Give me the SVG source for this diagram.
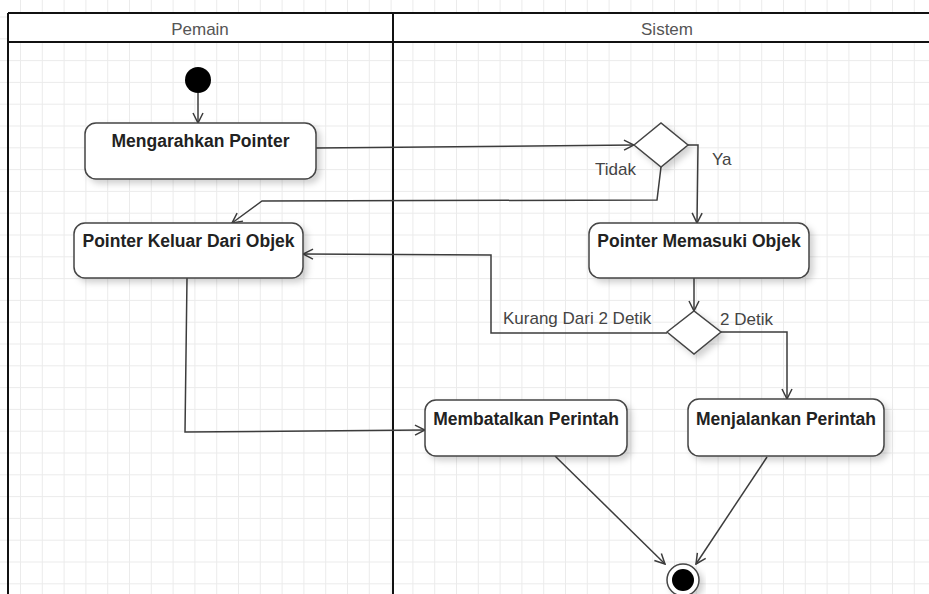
<svg xmlns="http://www.w3.org/2000/svg" width="929" height="594" viewBox="0 0 929 594">
  <defs>
    <pattern id="grid" x="20" y="16.5" width="21.8" height="21.8" patternUnits="userSpaceOnUse">
      <path d="M0 0.5 H21.8 M0.5 0 V21.8" stroke="#ebebeb" stroke-width="1" fill="none"/>
    </pattern>
    <filter id="shadow" x="-10%" y="-10%" width="130%" height="140%">
      <feDropShadow dx="4" dy="4" stdDeviation="3" flood-color="#000" flood-opacity="0.18"/>
    </filter>
    <marker id="arrow" viewBox="0 0 12 12" refX="11" refY="6" markerWidth="12" markerHeight="12" markerUnits="userSpaceOnUse" orient="auto">
      <path d="M1 1 L11 6 L1 11" fill="none" stroke="#3c3c3c" stroke-width="1.5"/>
    </marker>
    <style>
      .lane { fill: none; stroke: #111; stroke-width: 2; }
      .lane-title { font-family: "Liberation Sans", Arial, sans-serif; font-size: 17px; fill: #555; text-anchor: middle; }
      .act { fill: #fff; stroke: #444; stroke-width: 1.5; filter: url(#shadow); }
      .act-label { font-family: "Liberation Sans", Arial, sans-serif; font-size: 17.5px; font-weight: bold; fill: #222; text-anchor: middle; }
      .decision { fill: #fff; stroke: #444; stroke-width: 1.5; filter: url(#shadow); }
      .flow { fill: none; stroke: #3c3c3c; stroke-width: 1.5; marker-end: url(#arrow); }
      .guard { font-family: "Liberation Sans", Arial, sans-serif; font-size: 17px; fill: #444; }
    </style>
  </defs>

  <!-- background grid -->
  <rect x="0" y="0" width="929" height="594" fill="#fff"/>
  <rect x="0" y="0" width="929" height="594" fill="url(#grid)"/>

  <!-- swimlanes -->
  <g id="lanes">
    <rect x="8" y="13" width="930" height="29" fill="#fff"/>
    <line class="lane" x1="8" y1="13" x2="929" y2="13"/>
    <line class="lane" x1="8" y1="42" x2="929" y2="42"/>
    <line class="lane" x1="8" y1="13" x2="8" y2="594"/>
    <line class="lane" x1="393" y1="13" x2="393" y2="594"/>
    <text class="lane-title" x="200" y="35">Pemain</text>
    <text class="lane-title" x="667" y="35">Sistem</text>
  </g>

  <!-- connectors -->
  <g id="connectors">
    <path class="flow" d="M198 93 L198 123"/>
    <path class="flow" d="M316 148 L634 145"/>
    <path class="flow" d="M661 167 L657 200 L262 201 L232 223"/>
    <path class="flow" d="M688 145 L698 145 L697 223"/>
    <path class="flow" d="M694 278 L694 311"/>
    <path class="flow" d="M667 333 L491 333 L491 255 L303 254"/>
    <path class="flow" d="M721 332 L787 332 L787 399"/>
    <path class="flow" d="M187 278 L185 432 L425 430"/>
    <path class="flow" d="M555 456 L665 564"/>
    <path class="flow" d="M767 457 L696 564"/>
    <text class="guard" x="595" y="175" fill="#333">Tidak</text>
    <text class="guard" x="712" y="165">Ya</text>
    <text class="guard" x="503" y="324">Kurang Dari 2 Detik</text>
    <text class="guard" x="720" y="325">2 Detik</text>
  </g>

  <!-- nodes -->
  <g id="start">
    <circle cx="198" cy="80" r="13" fill="#000"/>
  </g>
  <g id="mengarahkan-pointer">
    <rect class="act" x="85" y="123" width="231" height="56" rx="11"/>
    <text class="act-label" x="200.5" y="147">Mengarahkan Pointer</text>
  </g>
  <g id="decision-masuk">
    <polygon class="decision" points="634,145 661,123 688,145 661,167"/>
  </g>
  <g id="pointer-keluar">
    <rect class="act" x="74" y="223" width="229" height="55" rx="11"/>
    <text class="act-label" x="188.5" y="247">Pointer Keluar Dari Objek</text>
  </g>
  <g id="pointer-memasuki">
    <rect class="act" x="589" y="223" width="220" height="55" rx="11"/>
    <text class="act-label" x="699" y="247">Pointer Memasuki Objek</text>
  </g>
  <g id="decision-durasi">
    <polygon class="decision" points="667,332 694,311 721,332 694,354"/>
  </g>
  <g id="membatalkan-perintah">
    <rect class="act" x="425" y="400" width="202" height="56" rx="11"/>
    <text class="act-label" x="526" y="425">Membatalkan Perintah</text>
  </g>
  <g id="menjalankan-perintah">
    <rect class="act" x="688" y="399" width="196" height="57" rx="11"/>
    <text class="act-label" x="786" y="425">Menjalankan Perintah</text>
  </g>
  <g id="end">
    <circle cx="683" cy="580" r="16" fill="#fff" stroke="#444" stroke-width="1.5" filter="url(#shadow)"/>
    <circle cx="683" cy="580" r="11" fill="#000"/>
  </g>
</svg>
